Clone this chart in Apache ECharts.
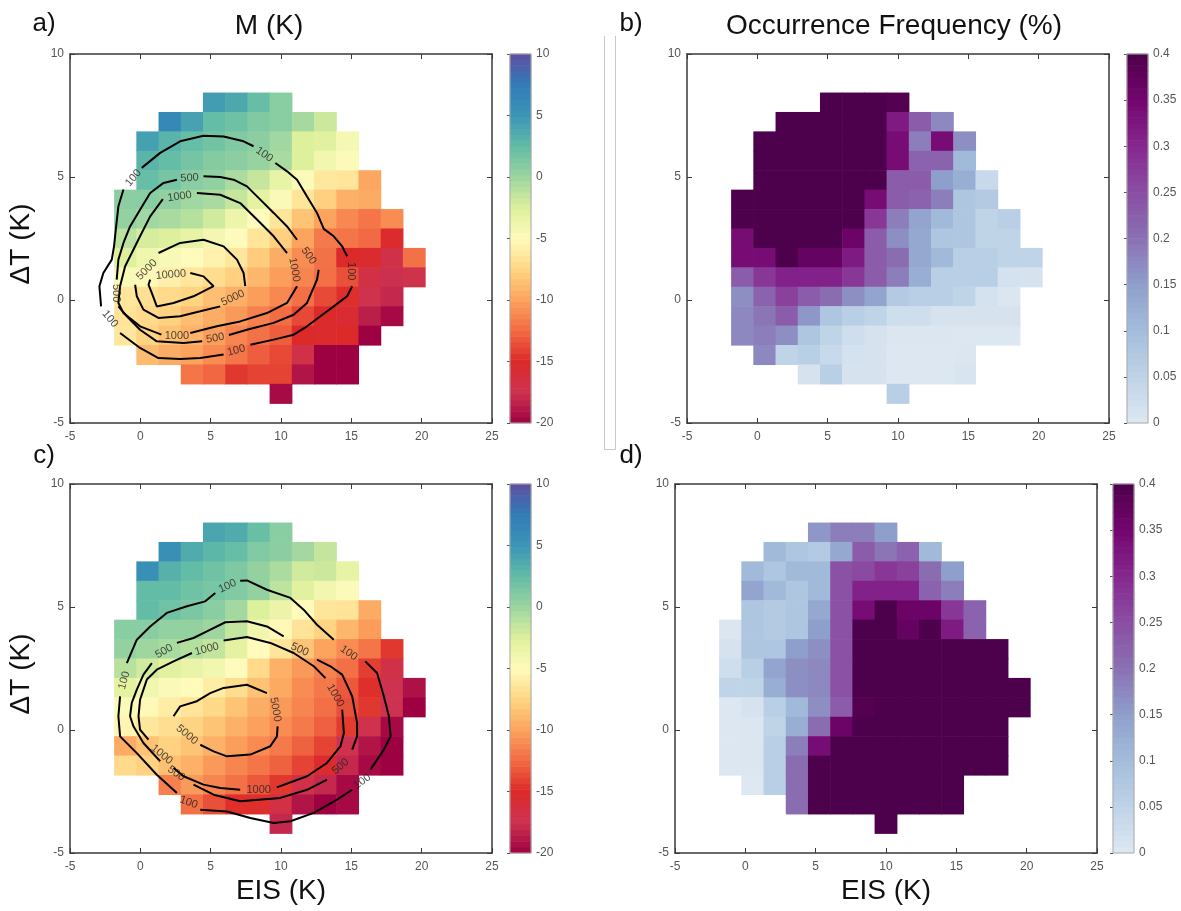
<!DOCTYPE html>
<html><head><meta charset="utf-8">
<script src="https://cdn.jsdelivr.net/npm/echarts@6/dist/echarts.min.js"></script>
<style>html,body{margin:0;padding:0;background:#fff}#c{width:1181px;height:911px}</style>
</head><body><div id="c"></div><script>
// ---- axes / bins ----
const X_MIN = -5, X_MAX = 25, Y_MIN = -5, Y_MAX = 10, NBIN = 19;
const mRange = [-20, 10];
const fRange = [0, 0.4];
const xName = 'EIS (K)', yName = 'ΔT (K)';
const titles = ['M (K)', 'Occurrence Frequency (%)'];
const letters = ['a)', 'b)', 'c)', 'd)'];

// ---- cell values: [row j, first column i, values...] ----
const mA = [
 [16,6,[4.5,3.8,2.3,0.8]],
 [15,4,[6.2,4.2,2.4,2.0,1.2,0.8,-0.4,-1.8]],
 [14,3,[4.3,3.0,2.3,1.8,1.2,0.7,-0.2,-2.5,-2.8,-4.3]],
 [13,3,[3.0,2.4,1.7,1.0,0.7,0.2,-0.5,-2.5,-4.0,-4.8]],
 [12,3,[2.3,1.6,0.8,0.5,-0.6,-1.6,-3.2,-4.8,-6.3,-6.5,-9.8]],
 [11,2,[0.7,0.8,0.5,-0.2,-0.5,-1.6,-3.0,-4.6,-6.5,-7.8,-9.3,-9.6]],
 [10,2,[0.4,-0.2,-0.5,-1.0,-2.0,-3.7,-5.0,-6.5,-8.4,-10.0,-11.2,-12.0,-11.0]],
 [9,2,[-1.2,-2.2,-2.6,-3.2,-4.2,-5.0,-6.5,-7.8,-10.0,-11.8,-12.0,-12.5,-15.2]],
 [8,2,[-2.6,-3.8,-4.5,-5.0,-5.6,-6.4,-8.0,-9.5,-11.0,-12.2,-15.0,-15.3,-17.0,-12.2]],
 [7,2,[-4.5,-5.2,-5.8,-6.4,-7.0,-7.8,-9.0,-10.2,-11.3,-12.3,-13.5,-16.8,-17.6,-17.2]],
 [6,2,[-6.4,-6.8,-7.2,-7.6,-8.6,-9.4,-10.2,-11.2,-12.3,-13.7,-14.8,-17.3,-18.0]],
 [5,2,[-6.6,-7.2,-7.7,-8.7,-9.5,-10.4,-11.5,-12.4,-13.8,-15.0,-15.5,-18.5,-19.6]],
 [4,2,[-6.4,-7.6,-8.5,-9.2,-10.2,-11.3,-12.2,-13.0,-15.0,-15.2,-15.0,-20]],
 [3,3,[-8.8,-9.5,-10.0,-11.0,-12.0,-13.0,-13.8,-17.0,-20,-20]],
 [2,5,[-12,-12.6,-14.5,-14,-14,-19,-20,-20]],
 [1,9,[-19.5]]
];
const fB = [
 [16,6,[0.4,0.4,0.4,0.39]],
 [15,4,[0.4,0.4,0.4,0.4,0.4,0.32,0.23,0.175]],
 [14,3,[0.4,0.4,0.4,0.4,0.4,0.4,0.34,0.185,0.34,0.167]],
 [13,3,[0.4,0.4,0.4,0.4,0.4,0.4,0.34,0.22,0.22,0.105]],
 [12,3,[0.4,0.4,0.4,0.4,0.4,0.4,0.23,0.23,0.15,0.125,0.036]],
 [11,2,[0.4,0.4,0.4,0.4,0.4,0.4,0.34,0.23,0.22,0.185,0.08,0.07]],
 [10,2,[0.4,0.4,0.4,0.4,0.4,0.4,0.28,0.185,0.14,0.105,0.08,0.048,0.06]],
 [9,2,[0.34,0.4,0.4,0.4,0.4,0.36,0.23,0.167,0.135,0.08,0.08,0.048,0.048]],
 [8,2,[0.34,0.34,0.4,0.37,0.37,0.32,0.23,0.205,0.135,0.105,0.06,0.06,0.048,0.048]],
 [7,2,[0.23,0.28,0.31,0.31,0.31,0.28,0.23,0.185,0.125,0.06,0.06,0.06,0.015,0.012]],
 [6,2,[0.167,0.22,0.267,0.23,0.205,0.167,0.14,0.07,0.06,0.06,0.048,0.015,0.004]],
 [5,2,[0.175,0.195,0.23,0.158,0.08,0.06,0.048,0.025,0.025,0.012,0.012,0.012,0.012]],
 [4,2,[0.175,0.185,0.167,0.08,0.048,0.025,0.012,0.004,0.004,0.004,0.002,0.002,0.002]],
 [3,3,[0.175,0.048,0.06,0.036,0.015,0.012,0.002,0.002,0.002,0.004]],
 [2,5,[0.012,0.06,0.012,0.012,0.002,0.002,0.002,0.008]],
 [1,9,[0.06]]
];
const mC = [
 [16,6,[4.0,3.6,2.2,0.8]],
 [15,4,[5.5,3.6,2.8,2.3,1.1,0.7,-0.3,-1.5]],
 [14,3,[5.5,3.2,2.5,1.9,1.3,0.4,-0.6,-2.0,-1.8,-3.2]],
 [13,3,[2.5,2.5,1.9,1.5,1.1,0.4,-1.3,-2.8,-4.0,-4.8]],
 [12,3,[2.5,1.9,1.4,0.8,-0.3,-2.5,-3.5,-5.0,-6.5,-6.6,-9.6]],
 [11,2,[0.8,0.8,0.4,0.4,-0.1,-1.5,-3.9,-5.2,-6.6,-7.6,-9.0,-10.3]],
 [10,2,[0.4,-0.1,-0.5,-0.9,-1.5,-3.0,-5.0,-6.5,-8.4,-10.0,-11.0,-12.0,-14.5]],
 [9,2,[-1.1,-2.0,-2.7,-3.4,-4.0,-5.0,-7.2,-9.3,-10.4,-11.4,-12.3,-14.2,-17.0]],
 [8,2,[-3.0,-3.8,-4.6,-4.9,-6.0,-7.0,-8.5,-9.7,-11.0,-11.9,-13.2,-14.8,-17.5,-19.2]],
 [7,2,[-4.7,-5.2,-6.0,-6.5,-7.3,-8.4,-9.5,-10.4,-11.3,-12.3,-13.5,-14.5,-17.5,-20]],
 [6,2,[-5.5,-6.4,-6.9,-7.6,-8.4,-9.3,-10.1,-11.0,-11.8,-12.9,-14.3,-17.3,-19.6]],
 [5,2,[-9.6,-8.5,-7.7,-8.4,-9.3,-10.2,-11.1,-11.8,-12.8,-14.0,-17.3,-19.0,-20]],
 [4,2,[-7.2,-7.7,-8.6,-9.3,-10.4,-11.3,-12.0,-12.8,-14.0,-15.2,-18.0,-19.6,-20]],
 [3,4,[-11.5,-10.4,-11.3,-12.2,-13.2,-14.5,-17.0,-18.0,-19.6]],
 [2,5,[-12.3,-13.5,-14.8,-14.8,-16.8,-19.0,-20,-19.6]],
 [1,9,[-18]]
];
const fD = [
 [16,6,[0.158,0.185,0.185,0.15]],
 [15,4,[0.105,0.08,0.07,0.135,0.23,0.195,0.22,0.105]],
 [14,3,[0.105,0.08,0.105,0.105,0.245,0.255,0.28,0.267,0.205,0.15]],
 [13,3,[0.14,0.105,0.08,0.105,0.245,0.31,0.31,0.31,0.22,0.185]],
 [12,3,[0.08,0.07,0.08,0.135,0.245,0.34,0.4,0.36,0.36,0.28,0.22]],
 [11,2,[0.004,0.08,0.07,0.08,0.15,0.245,0.4,0.4,0.37,0.4,0.32,0.22]],
 [10,2,[0.012,0.08,0.08,0.15,0.167,0.245,0.4,0.4,0.4,0.4,0.4,0.4,0.4]],
 [9,2,[0.025,0.06,0.14,0.167,0.175,0.245,0.4,0.4,0.4,0.4,0.4,0.4,0.4]],
 [8,2,[0.048,0.048,0.125,0.167,0.175,0.245,0.4,0.4,0.4,0.4,0.4,0.4,0.4,0.4]],
 [7,2,[0.002,0.012,0.06,0.105,0.167,0.23,0.39,0.4,0.4,0.4,0.4,0.4,0.4,0.4]],
 [6,2,[0.002,0.004,0.048,0.125,0.205,0.36,0.4,0.4,0.4,0.4,0.4,0.4,0.4]],
 [5,2,[0.002,0.004,0.06,0.185,0.34,0.4,0.4,0.4,0.4,0.4,0.4,0.4,0.4]],
 [4,2,[0.002,0.004,0.06,0.205,0.4,0.4,0.4,0.4,0.4,0.4,0.4,0.4,0.4]],
 [3,3,[0,0.06,0.205,0.4,0.4,0.4,0.4,0.4,0.4,0.4]],
 [2,5,[0.205,0.4,0.4,0.4,0.4,0.4,0.4,0.4]],
 [1,9,[0.4]]
];

// ---- contour lines (segments between inline labels) ----
const contA = [
 [[0.1,5.37],[1.41,5.98],[2.83,6.45],[4.49,6.68],[5.92,6.65],[7.34,6.45],[8.05,6.25]],
 [[9.6,5.57],[10.43,5.23],[11.14,4.89],[11.85,4.21],[12.56,3.54],[13.04,2.89],[13.75,2.59],[14.35,2.18],[14.7,1.78]],
 [[15.06,0.56],[14.7,0.15],[13.75,-0.26],[12.8,-0.66],[11.85,-1.07],[10.9,-1.41],[9.48,-1.61],[7.82,-1.82]],
 [[5.92,-2.22],[4.26,-2.36],[2.83,-2.40],[1.29,-2.36],[-0.02,-1.95],[-1.44,-1.34]],
 [[-2.79,-0.26],[-2.91,0.56],[-2.63,1.10],[-2.03,1.64],[-1.87,2.18],[-1.72,2.99],[-1.56,3.81],[-1.2,4.49]],
 [[4.49,5.03],[5.68,5.0],[6.63,4.89],[7.58,4.62],[8.53,4.08],[9.48,3.54],[10.43,2.99],[11.14,2.45]],
 [[12.68,1.23],[12.56,0.83],[11.85,-0.12],[10.9,-0.6],[9.48,-0.93],[7.58,-1.21],[6.3,-1.42]],
 [[4.4,-1.68],[3.07,-1.75],[1.17,-1.68],[-0.02,-1.21],[-0.96,-0.66],[-1.56,-0.26]],
 [[-1.68,0.83],[-1.56,1.64],[-1.2,2.32],[-0.73,2.99],[-0.02,3.67],[0.7,4.35],[1.65,4.76],[2.6,4.89]],
 [[4.02,4.35],[5.68,4.28],[7.1,3.94],[8.29,3.27],[9.48,2.59],[10.43,1.91]],
 [[11.14,0.56],[10.43,-0.12],[9.0,-0.53],[7.1,-0.87],[5.44,-1.07],[3.55,-1.34]],
 [[1.5,-1.41],[-0.02,-1.07],[-1.2,-0.53],[-1.56,-0.12],[-1.44,0.56],[-1.08,1.37],[-0.61,1.91],[-0.02,2.59],[0.7,3.4],[1.6,4.1]],
 [[1.29,1.91],[2.83,2.32],[4.49,2.45],[5.92,2.18],[6.87,1.64],[7.34,1.10],[7.46,0.56]],
 [[5.68,-0.26],[4.26,-0.46],[2.83,-0.66],[1.29,-0.73],[0.22,-0.39],[-0.25,0.15],[-0.37,0.62]],
 [[3.55,1.10],[4.49,0.96],[5.21,0.56],[3.78,0.15],[2.36,-0.12],[1.17,-0.26],[0.82,0.28],[0.58,0.62],[0.7,0.83]]
];
const labA = [
 [-0.49,4.96,'100',50],[8.81,5.91,'100',-35],[14.99,1.17,'100',-90],[6.82,-2.05,'100',15],[-2.15,-0.77,'100',-50],
 [3.5,4.96,'500',3],[11.97,1.8,'500',-55],[5.33,-1.55,'500',10],[-1.72,0.28,'500',-90],
 [2.79,4.21,'1000',8],[10.95,1.23,'1000',-80],[2.6,-1.45,'1000',0],
 [0.46,1.23,'5000',45],[6.58,0.08,'5000',25],[2.17,1.03,'10000',5]
];
const contC = [
 [[7.1,6.07],[7.58,6.08],[9.0,5.70],[10.67,5.37],[11.61,4.89],[12.56,4.28],[13.75,3.67]],
 [[15.99,2.79],[16.83,2.32],[17.31,1.37],[17.67,0.56],[17.79,-0.26],[17.31,-0.80],[16.36,-1.61]],
 [[15.06,-2.43],[13.99,-2.83],[12.33,-3.37],[10.67,-3.71],[9.48,-3.78],[7.82,-3.58],[6.16,-3.31],[4.26,-3.24]],
 [[2.6,-2.56],[1.17,-1.82],[-0.25,-0.94],[-1.44,-0.26],[-1.56,0.56],[-1.44,1.37]],
 [[-0.96,2.72],[-0.25,3.67],[0.70,4.21],[1.88,4.76],[3.31,5.03],[4.61,5.23],[5.33,5.57]],
 [[2.6,3.54],[3.78,3.74],[4.73,4.01],[6.04,4.38],[7.58,4.42],[9.0,4.21],[10.19,3.81]],
 [[12.56,2.86],[13.51,2.59],[14.35,2.25],[15.06,1.37],[15.41,0.28],[15.41,-0.26],[15.06,-0.80]],
 [[13.27,-2.02],[11.85,-2.43],[9.95,-2.76],[7.1,-2.90],[5.21,-2.63],[3.78,-2.22]],
 [[1.41,-1.27],[0.22,-0.53],[-0.49,0.15],[-0.73,0.56],[-0.61,1.10],[-0.25,1.64],[0.22,2.25],[0.82,2.72]],
 [[5.92,3.64],[7.58,3.78],[9.24,3.54],[10.9,3.13],[12.33,2.59],[13.16,2.11]],
 [[14.35,0.83],[14.47,-0.12],[14.23,-0.66],[13.27,-1.34],[11.85,-1.88],[9.7,-2.33]],
 [[7.1,-2.43],[5.68,-2.36],[4.49,-2.22],[3.07,-1.88],[2.36,-1.54]],
 [[0.58,-0.39],[-0.02,0.01],[-0.13,0.56],[-0.02,1.23],[0.46,2.05],[1.17,2.45],[2.36,2.79],[3.67,3.13]],
 [[2.36,0.56],[2.83,0.96],[4.02,1.17],[4.97,1.50],[5.92,1.71],[7.58,1.84],[9.0,1.50]],
 [[9.76,0.15],[9.71,-0.26],[9.24,-0.66],[7.82,-1.00],[6.16,-1.07],[5.21,-0.87],[4.26,-0.60]]
];
const labC = [
 [6.2,5.85,'100',25],[14.82,3.13,'100',-35],[15.77,-2.09,'100',35],[3.43,-2.94,'100',-20],[-1.15,2.02,'100',75],
 [1.69,3.2,'500',30],[11.33,3.27,'500',-25],[14.23,-1.48,'500',40],[2.55,-1.77,'500',-35],
 [4.73,3.29,'1000',15],[13.87,1.4,'1000',-60],[8.41,-2.43,'1000',0],[1.53,-1.0,'1000',-40],
 [9.6,0.83,'5000',-80],[3.31,-0.19,'5000',-40]
];

// ---- colour scales ----
const spectral = ['#9e0142','#cd3350','#dc2a2a','#f26a43','#fca35e','#fed683','#fffbbc','#ddf09c','#9cd5a0','#62bca6','#3a95b6','#327cb8','#5e4fa2'];
const bupu = ['#dde8f2','#bfd3e7','#a3bddb','#8f9fcb','#8a70b3','#8a4ea3','#86288f','#74056f','#4d004b'];

function cells(rows){
  const dx = (X_MAX - X_MIN) / NBIN, dy = (Y_MAX - Y_MIN) / NBIN, out = [];
  rows.forEach(([j, i0, vals]) => vals.forEach((v, k) => {
    const i = i0 + k;
    out.push([X_MIN + i*dx, Y_MIN + j*dy, X_MIN + (i+1)*dx, Y_MIN + (j+1)*dy, v]);
  }));
  return out;
}
function cbar(range, n){
  const out = [], d = (range[1]-range[0]) / n;
  for (let k = 0; k < n; k++) out.push([0, range[0]+k*d, 1, range[0]+(k+1)*d, range[0]+(k+0.5)*d]);
  return out;
}
const rectItem = (params, api) => {
  const a = api.coord([api.value(0), api.value(3)]);
  const b = api.coord([api.value(2), api.value(1)]);
  const c = api.visual('color');
  return {type:'rect', shape:{x:a[0]-0.3, y:a[1]-0.3, width:b[0]-a[0]+0.6, height:b[1]-a[1]+0.6}, style:{fill:c}};
};

const FONT = 'Liberation Sans, Arial, sans-serif';
const grids = [
  {left:70, top:54, width:422, height:369},
  {left:687, top:54, width:422, height:369},
  {left:70, top:484, width:422, height:369},
  {left:675, top:484, width:422, height:369},
  {left:510, top:54, width:21, height:369, show:true, borderColor:'#aaa', borderWidth:1, z:10},
  {left:1127, top:54, width:21, height:369, show:true, borderColor:'#aaa', borderWidth:1, z:10},
  {left:510, top:484, width:21, height:369, show:true, borderColor:'#aaa', borderWidth:1, z:10},
  {left:1113, top:484, width:21, height:369, show:true, borderColor:'#aaa', borderWidth:1, z:10}
];
const axLine = {onZero:false, lineStyle:{color:'#3a3a3a', width:1.5}};
const axTick = {inside:true, length:5, lineStyle:{color:'#3a3a3a', width:1}};
const axLab = {color:'#555', fontSize:12, fontFamily:FONT, showMinLabel:true, showMaxLabel:true};
const xAxis = [], yAxis = [];
for (let p = 0; p < 4; p++){
  xAxis.push({gridIndex:p, type:'value', min:X_MIN, max:X_MAX, interval:5, position:'bottom', axisLine:axLine, axisTick:axTick, axisLabel:Object.assign({margin:8}, axLab), splitLine:{show:false}, z:8});
  xAxis.push({gridIndex:p, type:'value', min:X_MIN, max:X_MAX, interval:5, position:'top', axisLine:axLine, axisTick:axTick, axisLabel:{show:false}, splitLine:{show:false}, z:8});
  yAxis.push({gridIndex:p, type:'value', min:Y_MIN, max:Y_MAX, interval:5, position:'left', axisLine:axLine, axisTick:axTick, axisLabel:Object.assign({margin:6}, axLab), splitLine:{show:false}, z:8});
  yAxis.push({gridIndex:p, type:'value', min:Y_MIN, max:Y_MAX, interval:5, position:'right', axisLine:axLine, axisTick:axTick, axisLabel:{show:false}, splitLine:{show:false}, z:8});
}
const cbRanges = [mRange, fRange, mRange, fRange];
for (let k = 0; k < 4; k++){
  const r = cbRanges[k];
  xAxis.push({gridIndex:4+k, type:'value', min:0, max:1, show:false});
  yAxis.push({gridIndex:4+k, type:'value', min:r[0], max:r[1], interval:(k%2 ? 0.05 : 5), position:'right',
    axisLine:{show:false}, axisTick:{inside:true, length:3, lineStyle:{color:'#555'}},
    axisLabel:{color:'#555', fontSize:12, fontFamily:FONT, margin:5, showMinLabel:true, showMaxLabel:true}, splitLine:{show:false}, z:8});
}

const series = [];
const heat = [mA, fB, mC, fD];
heat.forEach((rows, p) => series.push({type:'custom', xAxisIndex:2*p, yAxisIndex:2*p, renderItem:rectItem, data:cells(rows), encode:{x:[0,2], y:[1,3]}, z:2, silent:true}));
cbRanges.forEach((r, k) => series.push({type:'custom', xAxisIndex:8+k, yAxisIndex:8+k, renderItem:rectItem, data:cbar(r, 64), encode:{x:[0,2], y:[1,3]}, z:2, silent:true}));

function addContours(segs, labs, p){
  segs.forEach(seg => series.push({type:'line', xAxisIndex:2*p, yAxisIndex:2*p, data:seg, symbol:'none', showSymbol:false,
    lineStyle:{color:'#000', width:2}, z:5, silent:true}));
  series.push({type:'scatter', xAxisIndex:2*p, yAxisIndex:2*p, symbolSize:1, itemStyle:{color:'rgba(0,0,0,0)'}, z:6, silent:true,
    data: labs.map(l => ({value:[l[0], l[1]], name:l[2], label:{rotate:l[3]}})),
    label:{show:true, position:'inside', formatter:'{b}', color:'#222', fontSize:11, fontFamily:FONT}});
}
addContours(contA, labA, 0);
addContours(contC, labC, 2);

const txt = (t, x, y, size, rot) => ({type:'text', x:x, y:y, rotation:rot||0, z:100,
  style:{text:t, font:size+'px '+FONT, fill:'#111', textAlign:'center', textVerticalAlign:'middle'}});

const option = {
  animation:false,
  backgroundColor:'#fff',
  grid:grids, xAxis:xAxis, yAxis:yAxis,
  visualMap:[
    {type:'continuous', show:false, min:mRange[0], max:mRange[1], dimension:4, seriesIndex:[0,4], inRange:{color:spectral}},
    {type:'continuous', show:false, min:fRange[0], max:fRange[1], dimension:4, seriesIndex:[1,5], inRange:{color:bupu}},
    {type:'continuous', show:false, min:mRange[0], max:mRange[1], dimension:4, seriesIndex:[2,6], inRange:{color:spectral}},
    {type:'continuous', show:false, min:fRange[0], max:fRange[1], dimension:4, seriesIndex:[3,7], inRange:{color:bupu}}
  ],
  series:series,
  graphic:[
    txt(letters[0], 44, 24, 26), txt(titles[0], 269, 26, 28),
    txt(letters[1], 631, 24, 26), txt(titles[1], 894, 26, 28),
    txt(letters[2], 44, 456, 26), txt(letters[3], 631, 456, 26),
    txt(yName, 21, 244, 28, Math.PI/2), txt(yName, 21, 674, 28, Math.PI/2),
    txt(xName, 281, 891, 28), txt(xName, 886, 891, 28),
    {type:'polyline', z:100, shape:{points:[[604.5,36],[604.5,449.5],[615.5,449.5],[615.5,36]]}, style:{stroke:'#c8c8c8', lineWidth:1, fill:null}}
  ]
};
const chart = echarts.init(document.getElementById('c'), null, {renderer:'canvas'});
chart.setOption(option);
</script></body></html>
